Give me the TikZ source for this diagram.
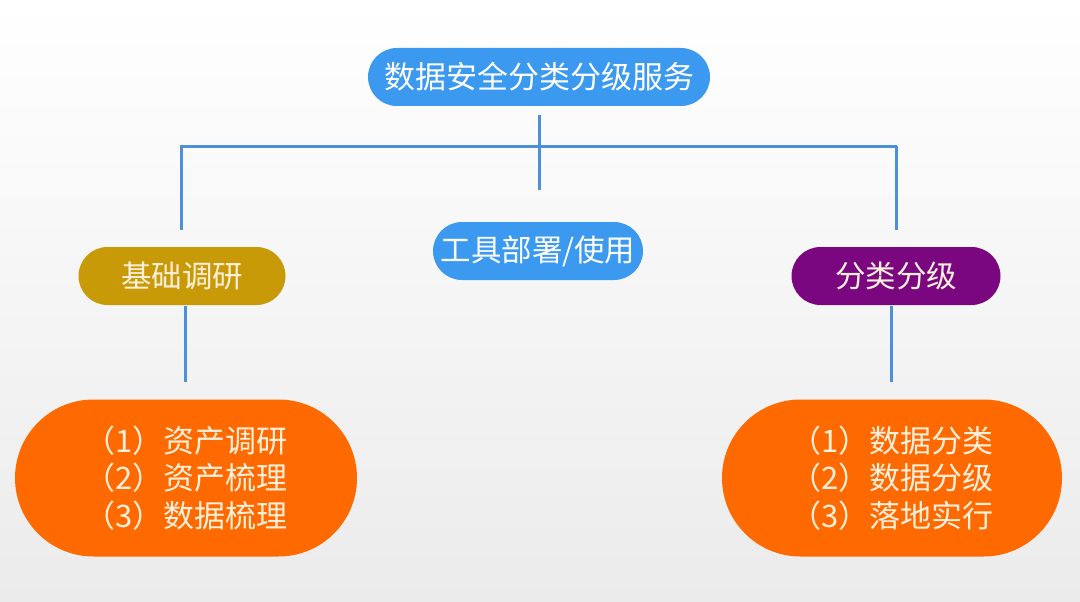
\documentclass[tikz,border=0pt]{standalone}
\usepackage{fontspec}
\setmainfont{Noto Sans CJK SC}
\usetikzlibrary{shapes.misc}
\definecolor{bluebox}{HTML}{3B9AF0}
\definecolor{linec}{HTML}{4A90DA}
\definecolor{goldbox}{HTML}{C99A08}
\definecolor{purplebox}{HTML}{7A0680}
\definecolor{orangebox}{HTML}{FF6A00}
\definecolor{cream}{HTML}{FFF0DC}
\definecolor{bgbot}{HTML}{EBEBEB}
\begin{document}
\begin{tikzpicture}[x=1pt,y=-1pt,
  pill/.style={rounded rectangle, inner sep=0pt, font=\fontsize{30.5}{34}\selectfont},
  conn/.style={draw=linec, line width=3pt}]
\useasboundingbox (0,0) rectangle (1080,602);
\shade[top color=white, bottom color=bgbot] (0,0) rectangle (1080,602);
\node[pill, fill=bluebox, text=white, minimum width=342pt, minimum height=58pt,
  font=\fontsize{31}{34}\selectfont] (top) at (539,77) {数据安全分类分级服务};
\node[pill, fill=goldbox, text=cream, minimum width=207pt, minimum height=58pt] (basic) at (182,276) {基础调研};
\node[pill, fill=bluebox, text=white, minimum width=210pt, minimum height=58pt] (tool) at (538,251) {工具部署/使用};
\node[pill, fill=purplebox, text=cream, minimum width=209pt, minimum height=58pt] (cls) at (896,276) {分类分级};
\node[pill, fill=orangebox, text=cream, minimum width=342pt, minimum height=157pt, align=left,
  font=\fontsize{31}{37.5}\selectfont] (left) at (186,478) {（1）资产调研\\（2）资产梳理\\（3）数据梳理};
\node[pill, fill=orangebox, text=cream, minimum width=340pt, minimum height=157pt, align=left,
  font=\fontsize{31}{37.5}\selectfont] (right) at (892,478) {（1）数据分类\\（2）数据分级\\（3）落地实行};
\coordinate (hl) at (180,146);
\coordinate (hr) at (897,146);
\coordinate (vt) at (539,115);
\coordinate (vb) at (539,190);
\draw[conn] (hl) -- (hr);
\draw[conn] (vt) -- (vb);
\draw[conn] (181,146) -- (181,230);
\draw[conn] (896,146) -- (896,230);
\draw[conn] (185,306) -- (185,382);
\draw[conn] (891,306) -- (891,382);
\end{tikzpicture}
\end{document}
